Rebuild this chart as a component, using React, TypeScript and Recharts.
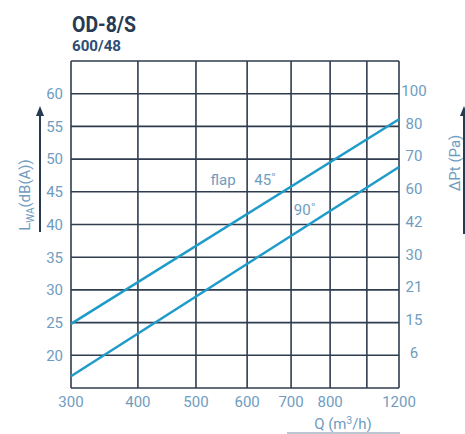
import React from 'react';
import { LineChart, Line, XAxis, YAxis, CartesianGrid, ReferenceDot } from 'recharts';

// Q axis (m³/h): grid values, labels and the chart's nonlinear axis spacing (0..1)
const qTicks = [300, 400, 500, 600, 700, 800, 1000, 1200];
const qTickLabels = ['300', '400', '500', '600', '700', '800', '', '1200'];
const qAxisStops = [0, 0.204, 0.381, 0.537, 0.671, 0.79, 0.902, 1];

// Left axis: sound power Lwa dB(A)
const lwTicks = [15, 20, 25, 30, 35, 40, 45, 50, 55, 60, 65];
const lwLabels = ['', '20', '25', '30', '35', '40', '45', '50', '55', '60', ''];
// Right axis: ΔPt (Pa) labels on the same gridlines
const ptLabels = ['', '6', '15', '21', '30', '42', '60', '70', '80', '100', ''];

// Series
const flowQ = [300, 1200];
const lwFlap45 = [24.8, 56.1];
const lwFlap90 = [16.8, 48.8];

// Annotation anchors (Q, Lwa)
const notes = [
  { text: 'flap', q: 553, lw: 46.9 },
  { text: '45˚', q: 641, lw: 46.8 },
  { text: '90˚', q: 735, lw: 42.3 },
];

const warp = (q: number) => {
  for (let i = 0; i < qTicks.length - 1; i++) {
    if (q <= qTicks[i + 1]) {
      const t = (q - qTicks[i]) / (qTicks[i + 1] - qTicks[i]);
      return qAxisStops[i] + t * (qAxisStops[i + 1] - qAxisStops[i]);
    }
  }
  return 1;
};

const data = flowQ.map((q, i) => ({ u: warp(q), a45: lwFlap45[i], a90: lwFlap90[i] }));
const xTickPos = qTicks.map(warp);

const FONT = 'Roboto, "Liberation Sans", sans-serif';
const TICK_COLOR = '#6f9cc0';
const GRID = '#2f3d4e';
const LINE = '#1f9bca';

const xLabel = (v: number) => {
  let best = 0;
  xTickPos.forEach((p, i) => {
    if (Math.abs(p - v) < Math.abs(xTickPos[best] - v)) best = i;
  });
  return qTickLabels[best];
};
const nearestIdx = (v: number) => {
  let best = 0;
  lwTicks.forEach((t, i) => {
    if (Math.abs(t - v) < Math.abs(lwTicks[best] - v)) best = i;
  });
  return best;
};
const lwLabel = (v: number) => lwLabels[nearestIdx(v)];
const ptLabel = (v: number) => ptLabels[nearestIdx(v)];

export default function App() {
  return (
    <div style={{ position: 'absolute', left: 0, top: 0, width: 465, height: 434, background: '#fff' }}>
      <LineChart width={465} height={434} data={data} margin={{ top: 61, right: 0, bottom: 16, left: 0 }}>
        <CartesianGrid yAxisId="l" stroke={GRID} strokeWidth={1.6} />
        <XAxis
          dataKey="u"
          type="number"
          domain={[0, 1]}
          ticks={xTickPos}
          interval={0}
          tickFormatter={xLabel}
          axisLine={false}
          tickLine={false}
          height={30}
          tick={{ fill: TICK_COLOR, fontSize: 15, fontFamily: FONT }}
        />
        <YAxis
          yAxisId="l"
          domain={[15, 65]}
          allowDataOverflow
          ticks={lwTicks}
          interval={0}
          tickFormatter={lwLabel}
          axisLine={false}
          tickLine={false}
          width={71}
          tick={{ fill: TICK_COLOR, fontSize: 15, fontFamily: FONT }}
        />
        <YAxis
          yAxisId="r"
          orientation="right"
          domain={[15, 65]}
          allowDataOverflow
          ticks={lwTicks}
          interval={0}
          tickFormatter={ptLabel}
          axisLine={false}
          tickLine={false}
          width={66}
          tick={{ fill: TICK_COLOR, fontSize: 15, fontFamily: FONT, textAnchor: 'middle', dx: 7, dy: -3 }}
        />
        <Line yAxisId="l" dataKey="a45" stroke={LINE} strokeWidth={2.5} dot={false} isAnimationActive={false} />
        <Line yAxisId="r" dataKey="a90" stroke={LINE} strokeWidth={2.5} dot={false} isAnimationActive={false} />
        {notes.map((n) => (
          <ReferenceDot
            key={n.text}
            yAxisId="l"
            x={warp(n.q)}
            y={n.lw}
            r={1}
            fill="none"
            stroke="none"
            label={{ value: n.text, position: 'center', fill: TICK_COLOR, fontSize: 15, fontFamily: FONT }}
          />
        ))}
      </LineChart>
      <svg width={465} height={434} style={{ position: 'absolute', left: 0, top: 0, pointerEvents: 'none' }}>
        <text x={72} y={32} fontFamily={FONT} fontWeight="bold" fontSize={22} textLength={64} lengthAdjust="spacingAndGlyphs" fill="#263a52">OD-8/S</text>
        <text x={72} y={51} fontFamily={FONT} fontWeight="bold" fontSize={15} textLength={49} lengthAdjust="spacingAndGlyphs" fill="#2d4d74">600/48</text>
        {/* left axis title and arrow */}
        <text transform="translate(30,195) rotate(-90)" textAnchor="middle" fontFamily={FONT} fontSize={15} fill={TICK_COLOR}>
          L<tspan fontSize={10} dy={4}>WA</tspan><tspan dy={-4}>(dB(A))</tspan>
        </text>
        <line x1={40} y1={232} x2={40} y2={114} stroke="#263a52" strokeWidth={2} />
        <polygon points="36,116 44,116 40,106" fill="#263a52" />
        {/* right axis title and arrow */}
        <text transform="translate(460,163) rotate(-90)" textAnchor="middle" fontFamily={FONT} fontSize={15} fill={TICK_COLOR}>
          ΔPt (Pa)
        </text>
        <line x1={464} y1={234} x2={464} y2={114} stroke="#263a52" strokeWidth={2} />
        <polygon points="460,116 468,116 464,106" fill="#263a52" />
        {/* x axis title */}
        <text x={343} y={429} textAnchor="middle" fontFamily={FONT} fontSize={15} fill={TICK_COLOR}>
          Q (m<tspan fontSize={10} dy={-5}>3</tspan><tspan dy={5}>/h)</tspan>
        </text>
        <line x1={287} y1={433} x2={400} y2={433} stroke="#7d8fa3" strokeWidth={1} />
      </svg>
    </div>
  );
}
